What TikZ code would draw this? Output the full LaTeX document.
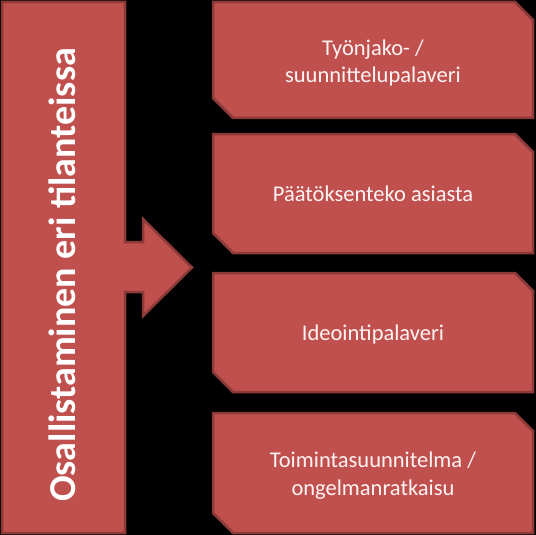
\documentclass[tikz,border=0pt]{standalone}
\usepackage{fontspec}
\setmainfont{Carlito}
\definecolor{boxred}{HTML}{C0504D}
\definecolor{edgered}{HTML}{8C3A37}
\definecolor{txt}{HTML}{FFF4F4}
\begin{document}
\begin{tikzpicture}[x=1pt,y=-1pt,
  shapebox/.style={fill=boxred,draw=edgered,line width=2.5pt,line join=miter},
  itemtext/.style={text=txt,font=\fontsize{22.5}{27.5}\selectfont,align=center,anchor=base,inner sep=0pt},
  titletext/.style={text=white,font=\bfseries\fontsize{38}{44}\selectfont,rotate=90,anchor=base,inner sep=0pt}]
\fill[black] (0,0) rectangle (536,535);
\useasboundingbox (0,0) rectangle (536,535);
% left bar with arrow
\path[shapebox] (2,2) -- (125,2) -- (125,242) -- (143,242) -- (143,219) -- (192,267.5)
  -- (143,316) -- (143,292) -- (125,292) -- (125,533) -- (2,533) -- cycle;
\node[titletext] (title) at (75,275) {Osallistaminen eri tilanteissa};
% right boxes
\foreach \t/\b in {2/118, 134/253, 273/392, 413/533}{
  \path[shapebox] (213,\t) -- (515,\t) -- (533,\t+18) -- (533,\b) -- (233,\b) -- (213,\b-20) -- cycle;
}
\node[itemtext] (t1) at (373,83) {Työnjako- /\\suunnittelupalaveri};
\node[itemtext] (t2) at (373,201.7) {Päätöksenteko asiasta};
\node[itemtext] (t3) at (373,340) {Ideointipalaveri};
\node[itemtext] (t4) at (373,495) {Toimintasuunnitelma /\\ongelmanratkaisu};
\end{tikzpicture}
\end{document}
